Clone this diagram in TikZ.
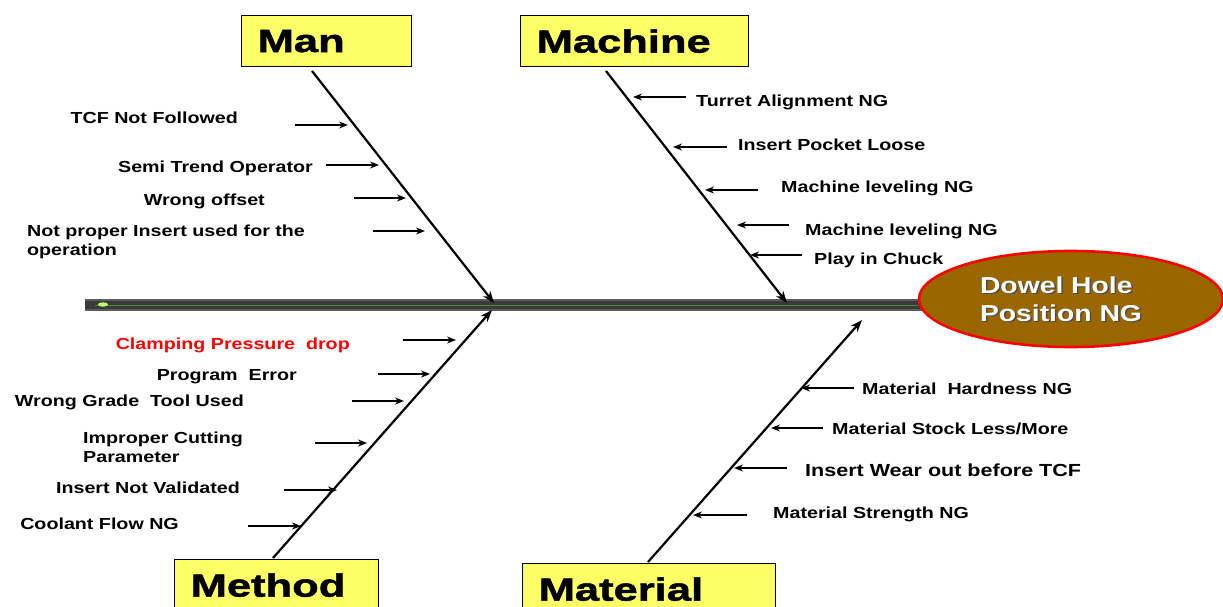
\documentclass[tikz,border=0pt]{standalone}
\usepackage{fontspec}
\setmainfont{Liberation Sans}
\newfontfamily\lblfont{Liberation Sans}[FakeStretch=1.23]
\newfontfamily\metfont{Liberation Sans}[FakeStretch=1.23]
\newfontfamily\boxfont{Liberation Sans}[FakeStretch=1.36,FakeBold=1.6]
\usetikzlibrary{arrows.meta,shapes.geometric}
\definecolor{boxyellow}{HTML}{FFFF66}
\definecolor{effectbrown}{HTML}{996600}
\definecolor{spinegray}{HTML}{3A3A3A}
\definecolor{spineedge}{HTML}{5C5C5C}
\definecolor{spinegreen}{HTML}{4E8A2E}
\definecolor{glow}{HTML}{B8FF66}
\begin{document}
\begin{tikzpicture}[x=1pt,y=-1pt,
  catbox/.style={draw=black, line width=1.3pt, fill=boxyellow, minimum height=51pt,
    anchor=north west, inner xsep=16pt, inner ysep=0pt, align=left,
    font=\boxfont\bfseries\fontsize{32}{36}\selectfont},
  cause/.style={font=\lblfont\bfseries\fontsize{16}{19}\selectfont, inner sep=0pt, align=left},
  mcause/.style={font=\metfont\bfseries\fontsize{16}{19}\selectfont, inner sep=0pt, align=left},
  bone/.style={line width=2.2pt, -{Stealth[length=12pt,width=9pt]}},
  sarrow/.style={line width=1.3pt, -{Stealth[length=9pt,width=7pt]}}]
\useasboundingbox (0,0) rectangle (1223,607);
\clip (0,0) rectangle (1223,607);

% spine
\fill[spinegray] (85,299) rectangle (922,311);
\fill[spineedge] (85,299) rectangle (922,301);
\fill[spineedge] (85,309) rectangle (922,311);
\draw[spinegreen, line width=0.6pt] (95,305) -- (918,305);
\fill[glow] (103,304.5) ellipse (5 and 2.2);

% effect
\node[ellipse, draw=red, line width=2.6pt, fill=effectbrown, minimum width=304pt, minimum height=96pt] (effect) at (1071,299) {};
\node[font=\lblfont\bfseries\fontsize{23}{28}\selectfont, text=black!70, align=left, inner sep=0pt] (effectshadow) at (1062.5,300.5) {Dowel Hole\\Position NG};
\node[font=\lblfont\bfseries\fontsize{23}{28}\selectfont, text=white, align=left, inner sep=0pt] (effecttext) at (1061,299) {Dowel Hole\\Position NG};

% category boxes
\node[catbox, minimum width=170pt, text width=138pt] (man) at (241,15) {Man};
\node[catbox, minimum width=228pt, text width=196pt] (machine) at (520,15) {Machine};
\node[catbox, minimum width=204pt, text width=172pt] (method) at (174,559) {Method};
\node[catbox, minimum width=253pt, text width=221pt] (material) at (522,563) {Material};

% bones
\coordinate (manTop) at (312,71);   \coordinate (manHead) at (494,303);
\coordinate (macTop) at (606,71);   \coordinate (macHead) at (787,303);
\coordinate (metTop) at (273,558);  \coordinate (metHead) at (492,310);
\coordinate (matTop) at (648,562);  \coordinate (matHead) at (862,320);
\draw[bone] (manTop) -- (manHead);
\draw[bone] (macTop) -- (macHead);
\draw[bone] (metTop) -- (metHead);
\draw[bone] (matTop) -- (matHead);

% Man causes
\node[cause, anchor=mid east] (m1) at (238,121) {TCF Not Followed};
\node[cause, anchor=mid east] (m2) at (313,170) {Semi Trend Operator};
\node[cause, anchor=mid east] (m3) at (265,203) {Wrong offset};
\node[cause, anchor=west] (m4) at (27,242) {Not proper Insert used for the\\operation};
\coordinate (m1t) at (295,125); \coordinate (m1h) at (348,125);
\coordinate (m2t) at (326,165); \coordinate (m2h) at (379,165);
\coordinate (m3t) at (354,198); \coordinate (m3h) at (406,198);
\coordinate (m4t) at (373,231); \coordinate (m4h) at (425,231);
\foreach \i in {1,...,4} \draw[sarrow] (m\i t) -- (m\i h);

% Machine causes
\node[cause, anchor=mid west] (c1) at (696,104) {Turret Alignment NG};
\node[cause, anchor=mid west] (c2) at (738,148) {Insert Pocket Loose};
\node[cause, anchor=mid west] (c3) at (781,190) {Machine leveling NG};
\node[cause, anchor=mid west] (c4) at (805,233) {Machine leveling NG};
\node[cause, anchor=mid west] (c5) at (814,262) {Play in Chuck};
\coordinate (c1t) at (686,97);  \coordinate (c1h) at (633,97);
\coordinate (c2t) at (727,147); \coordinate (c2h) at (673,147);
\coordinate (c3t) at (758,190); \coordinate (c3h) at (705,190);
\coordinate (c4t) at (789,225); \coordinate (c4h) at (737,225);
\coordinate (c5t) at (802,255); \coordinate (c5h) at (750,255);
\foreach \i in {1,...,5} \draw[sarrow] (c\i t) -- (c\i h);

% Method causes
\node[mcause, anchor=mid east, text=red] (t1) at (350,347) {Clamping Pressure\ \ drop};
\node[mcause, anchor=mid east] (t2) at (297,378) {Program\ \ Error};
\node[mcause, anchor=mid east] (t3) at (244,404) {Wrong Grade\ \ Tool Used};
\node[mcause, anchor=west] (t4) at (83,447) {Improper Cutting\\Parameter};
\node[mcause, anchor=mid east] (t5) at (240,491) {Insert Not Validated};
\node[mcause, anchor=mid east] (t6) at (179,527) {Coolant Flow NG};
\coordinate (t1t) at (403,340); \coordinate (t1h) at (456,340);
\coordinate (t2t) at (378,374); \coordinate (t2h) at (430,374);
\coordinate (t3t) at (352,401); \coordinate (t3h) at (404,401);
\coordinate (t4t) at (315,443); \coordinate (t4h) at (367,443);
\coordinate (t5t) at (284,490); \coordinate (t5h) at (337,490);
\coordinate (t6t) at (248,526); \coordinate (t6h) at (301,526);
\foreach \i in {1,...,6} \draw[sarrow] (t\i t) -- (t\i h);

% Material causes
\node[cause, anchor=mid west] (r1) at (862,392) {Material\ \ Hardness NG};
\node[cause, anchor=mid west] (r2) at (832,432) {Material Stock Less/More};
\node[cause, anchor=mid west, font=\lblfont\bfseries\fontsize{17.5}{20}\selectfont] (r3) at (805,474) {Insert Wear out before TCF};
\node[cause, anchor=mid west] (r4) at (773,516) {Material Strength NG};
\coordinate (r1t) at (854,388); \coordinate (r1h) at (801,388);
\coordinate (r2t) at (823,428); \coordinate (r2h) at (771,428);
\coordinate (r3t) at (787,468); \coordinate (r3h) at (734,468);
\coordinate (r4t) at (747,515); \coordinate (r4h) at (693,515);
\foreach \i in {1,...,4} \draw[sarrow] (r\i t) -- (r\i h);
\end{tikzpicture}
\end{document}
